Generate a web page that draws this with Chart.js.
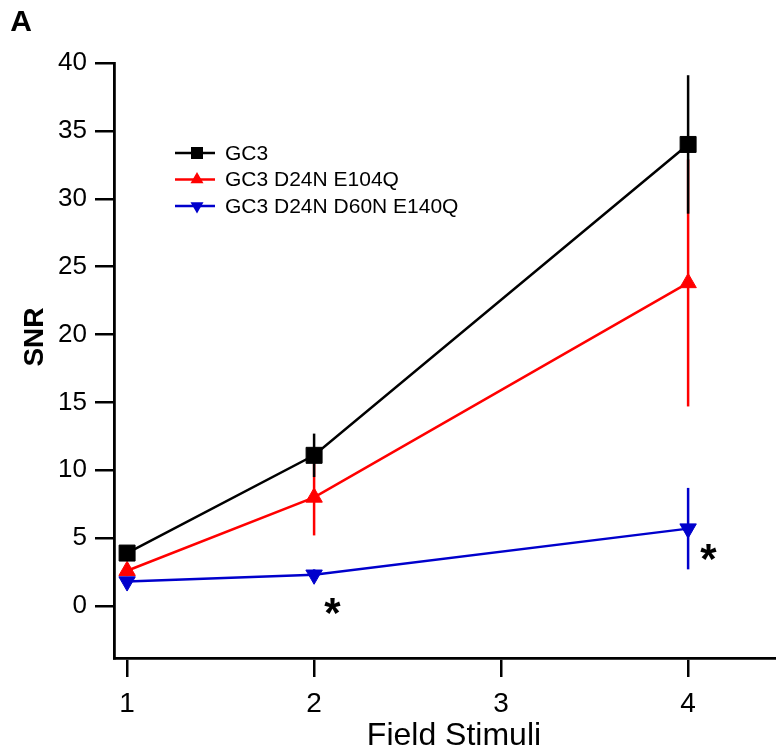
<!DOCTYPE html>
<html><head><meta charset="utf-8">
<script src="https://cdn.jsdelivr.net/npm/chart.js@4/dist/chart.umd.min.js"></script>
<style>html,body{margin:0;padding:0;background:#fff}#wrap{width:776px;height:753px}</style>
</head><body><div id="wrap"><canvas id="c" width="776" height="753"></canvas></div>
<script>
// ---- data ----
const stimuli = [1, 2, 4];
const seriesNames = ['GC3', 'GC3 D24N E104Q', 'GC3 D24N D60N E140Q'];
const gc3 = [3.9, 11.1, 34.0];
const gc3Err = [0.4, 1.6, 5.1];
const mutE104Q = [2.6, 8.0, 23.8];
const mutE104QErr = [0.4, 2.8, 9.1];
const mutE140Q = [1.8, 2.3, 5.7];
const mutE140QErr = [0.3, 0.4, 3.0];
const xTickValues = [1, 2, 3, 4];
const yTickValues = [0, 5, 10, 15, 20, 25, 30, 35, 40];
const sigMarks = [{x: 2.1, y: 0}, {x: 4.11, y: 4}];
const panelLabel = 'A';
const xTitle = 'Field Stimuli';
const yTitle = 'SNR';

const FONT = "'Liberation Sans', Arial, sans-serif";
const colors = ['#000000', '#ff0000', '#0000cc'];
const styles = [
  {pointStyle: 'rect', radius: 11.3, rotation: 0, lr: 8.5},
  {pointStyle: 'triangle', radius: 9.5, rotation: 0, lr: 7.5},
  {pointStyle: 'triangle', radius: 9.5, rotation: 180, lr: 7.5}
];
const values = [gc3, mutE104Q, mutE140Q];
const errs = [gc3Err, mutE104QErr, mutE140QErr];

const datasets = values.map((v, i) => ({
  label: seriesNames[i],
  data: stimuli.map((x, j) => ({x: x, y: v[j]})),
  borderColor: colors[i],
  backgroundColor: colors[i],
  borderWidth: 2.5,
  pointStyle: styles[i].pointStyle,
  pointRadius: styles[i].radius,
  pointRotation: styles[i].rotation,
  pointBackgroundColor: colors[i],
  pointBorderColor: colors[i],
  pointBorderWidth: 1,
  tension: 0,
  order: i,
  clip: false,
  errs: errs[i]
}));

function drawMarker(ctx, style, r, rot, x, y) {
  ctx.beginPath();
  if (style === 'rect') {
    const s = Math.SQRT1_2 * r;
    ctx.rect(x - s, y - s, 2 * s, 2 * s);
  } else {
    let rad = rot * Math.PI / 180;
    for (let k = 0; k < 3; k++) {
      const px = x + Math.sin(rad) * r, py = y - Math.cos(rad) * r;
      if (k === 0) ctx.moveTo(px, py); else ctx.lineTo(px, py);
      rad += 2 * Math.PI / 3;
    }
    ctx.closePath();
  }
  ctx.fill();
}

const extras = {
  id: 'extras',
  beforeDatasetDraw(chart, args) {
    const ds = chart.data.datasets[args.index];
    const xs = chart.scales.x, ys = chart.scales.y;
    const ctx = chart.ctx;
    ctx.save();
    ctx.strokeStyle = ds.borderColor;
    ctx.lineWidth = 2.5;
    ds.data.forEach((p, j) => {
      const e = ds.errs[j];
      const px = xs.getPixelForValue(p.x);
      ctx.beginPath();
      ctx.moveTo(px, ys.getPixelForValue(p.y - e));
      ctx.lineTo(px, ys.getPixelForValue(p.y + e));
      ctx.stroke();
    });
    ctx.restore();
  },
  afterDraw(chart) {
    const ctx = chart.ctx;
    const xs = chart.scales.x, ys = chart.scales.y;
    ctx.save();
    // legend
    const rows = [153, 179.5, 206];
    seriesNames.forEach((name, i) => {
      const y = rows[i];
      ctx.strokeStyle = colors[i];
      ctx.fillStyle = colors[i];
      ctx.lineWidth = 2.5;
      ctx.beginPath(); ctx.moveTo(175, y); ctx.lineTo(215, y); ctx.stroke();
      drawMarker(ctx, styles[i].pointStyle, styles[i].lr, styles[i].rotation, 197, y);
      ctx.fillStyle = '#000';
      ctx.font = '21px ' + FONT;
      ctx.textAlign = 'left';
      ctx.textBaseline = 'middle';
      ctx.fillText(name, 225, y + 1);
    });
    // significance asterisks
    ctx.font = 'bold 42px ' + FONT;
    ctx.fillStyle = '#000';
    ctx.textAlign = 'left';
    ctx.textBaseline = 'alphabetic';
    const m = ctx.measureText('*');
    sigMarks.forEach(s => {
      const cx = xs.getPixelForValue(s.x), cy = ys.getPixelForValue(s.y);
      const w = m.actualBoundingBoxRight + m.actualBoundingBoxLeft;
      const h = m.actualBoundingBoxAscent + m.actualBoundingBoxDescent;
      ctx.fillText('*', cx - w / 2 + m.actualBoundingBoxLeft, cy + h / 2 - m.actualBoundingBoxDescent);
    });
    // axis titles
    ctx.textAlign = 'center';
    ctx.textBaseline = 'middle';
    ctx.font = '32px ' + FONT;
    ctx.fillText(xTitle, 454, 736);
    ctx.save();
    ctx.translate(34, 337);
    ctx.rotate(-Math.PI / 2);
    ctx.font = 'bold 28px ' + FONT;
    ctx.fillText(yTitle, 0, 1);
    ctx.restore();
    // panel label
    ctx.font = 'bold 30px ' + FONT;
    ctx.fillText(panelLabel, 21, 23);
    ctx.restore();
  }
};

new Chart(document.getElementById('c'), {
  type: 'line',
  data: {datasets},
  plugins: [extras],
  options: {
    responsive: false,
    animation: false,
    devicePixelRatio: 1,
    layout: {autoPadding: false, padding: {top: 63, right: 0, bottom: 0, left: 0}},
    plugins: {legend: {display: false}, tooltip: {enabled: false}},
    scales: {
      x: {
        type: 'linear', min: 0.93, max: 4.47,
        afterBuildTicks: s => { s.ticks = xTickValues.map(v => ({value: v})); },
        afterFit: s => { s.height = 95; s.paddingLeft = 0; s.paddingRight = 0; },
        grid: {display: true, drawOnChartArea: false, drawTicks: true, tickLength: 19, color: '#000', lineWidth: 2.5},
        border: {display: true, color: '#000', width: 2.8},
        ticks: {color: '#000', font: {family: FONT, size: 28}, padding: 10, maxRotation: 0}
      },
      y: {
        type: 'linear', min: -3.83, max: 40,
        afterBuildTicks: s => { s.ticks = yTickValues.map(v => ({value: v})); },
        afterFit: s => { s.width = 114; },
        grid: {display: true, drawOnChartArea: false, drawTicks: true, tickLength: 19, color: '#000', lineWidth: 2.5},
        border: {display: true, color: '#000', width: 2.8},
        ticks: {color: '#000', font: {family: FONT, size: 26}, padding: 8}
      }
    }
  }
});
</script></body></html>
